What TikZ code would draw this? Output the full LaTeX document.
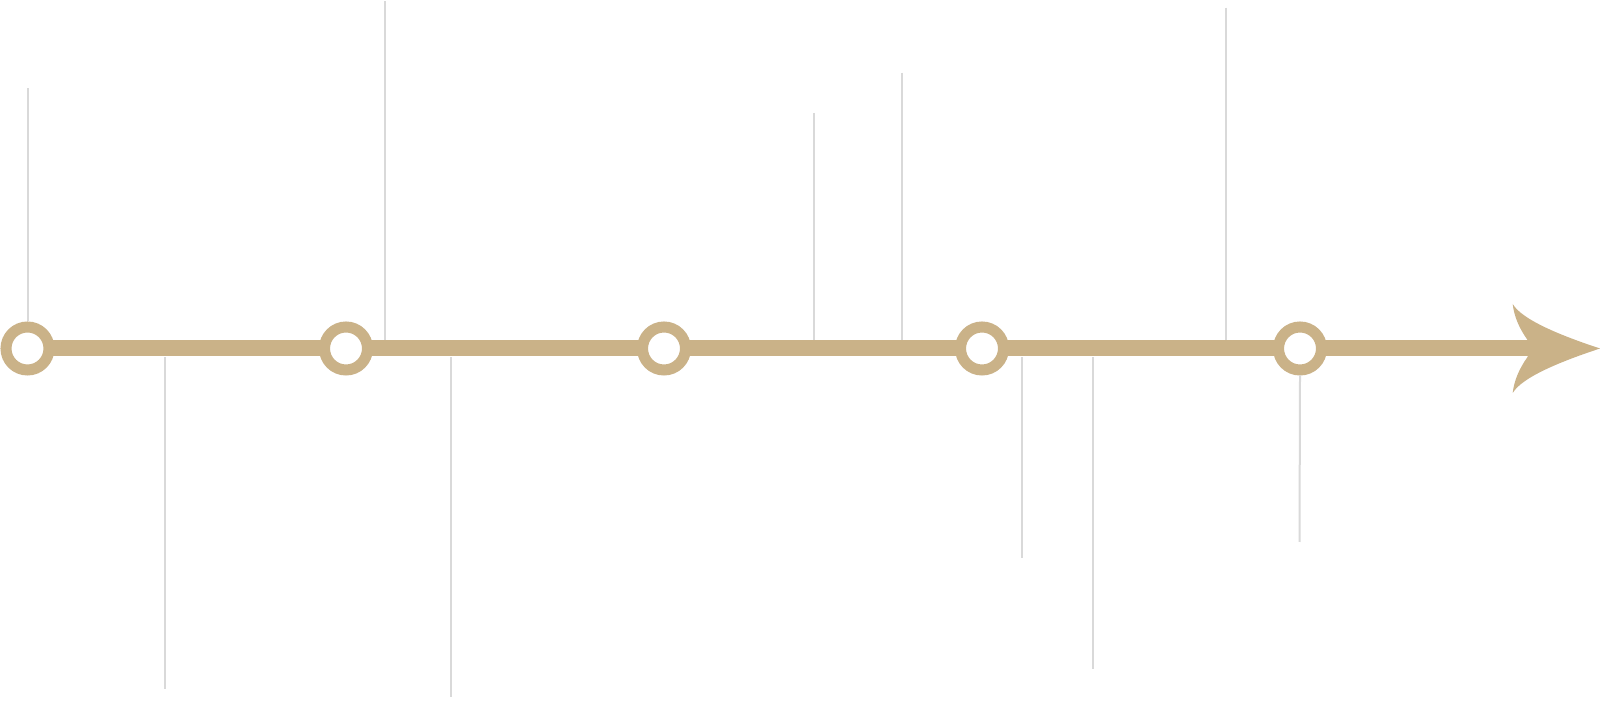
\documentclass[tikz,border=0pt]{standalone}
\definecolor{gold}{RGB}{202,178,136}
\definecolor{tick}{RGB}{217,217,217}
\tikzset{
  ring/.style={circle, draw=gold, fill=white, line width=5.5pt, minimum size=21.5pt, inner sep=0pt},
  mainline/.style={draw=gold, line width=8pt},
  tickline/.style={draw=tick, line width=1pt},
  headfill/.style={fill=gold, draw=none}
}
\begin{document}
\begin{tikzpicture}[x=0.5pt,y=-0.5pt]
\useasboundingbox (0,0) rectangle (1600,704);
\fill[white] (0,0) rectangle (1600,704);

% tick end points
\coordinate (t1) at (27.5,88.5);
\coordinate (t2) at (165,689);   \coordinate (b2) at (165,357);
\coordinate (t3) at (384.7,1.3); \coordinate (b3) at (384.7,340);
\coordinate (t4) at (451,697);   \coordinate (b4) at (451,357);
\coordinate (t5) at (814.3,113); \coordinate (b5) at (814.3,340);
\coordinate (t6) at (901.5,72.7);\coordinate (b6) at (901.5,340);
\coordinate (t7) at (1022.4,558);\coordinate (b7) at (1022.4,357);
\coordinate (t8) at (1093,669);  \coordinate (b8) at (1093,357);
\coordinate (t9) at (1226,7.6);  \coordinate (b9) at (1226,340);
\coordinate (t10) at (1299.5,542);

% arrow head points
\coordinate (n1) at (1527.5,340);
\coordinate (n2) at (1527.5,357);
\coordinate (bA) at (1512.7,304);
\coordinate (tip) at (1600,348.5);
\coordinate (bB) at (1512.7,393);
\coordinate (end) at (1530,348.5);

% ticks
\draw[tickline] (t2) -- (b2);
\draw[tickline] (t3) -- (b3);
\draw[tickline] (t4) -- (b4);
\draw[tickline] (t5) -- (b5);
\draw[tickline] (t6) -- (b6);
\draw[tickline] (t7) -- (b7);
\draw[tickline] (t8) -- (b8);
\draw[tickline] (t9) -- (b9);

% circles (positions)
\path (27.5,348.5) coordinate (p1) (346,348.5) coordinate (p2) (664,348.5) coordinate (p3)
      (982,348.5) coordinate (p4) (1300,348.5) coordinate (p5);

% main line
\draw[mainline] (p1) -- (end);

% arrow head
\fill[headfill] (n1) .. controls (1519,328) and (1514,316) .. (bA)
  .. controls (1522,320) and (1562,336) .. (tip)
  .. controls (1562,361) and (1522,377) .. (bB)
  .. controls (1514,381) and (1519,369) .. (n2) -- cycle;

% nodes
\node[ring] (c1) at (p1) {};
\node[ring] (c2) at (p2) {};
\node[ring] (c3) at (p3) {};
\node[ring] (c4) at (p4) {};
\node[ring] (c5) at (p5) {};

\draw[tickline] (t1) -- (c1.north);
\draw[tickline] (t10) -- (c5.south);
\end{tikzpicture}
\end{document}
